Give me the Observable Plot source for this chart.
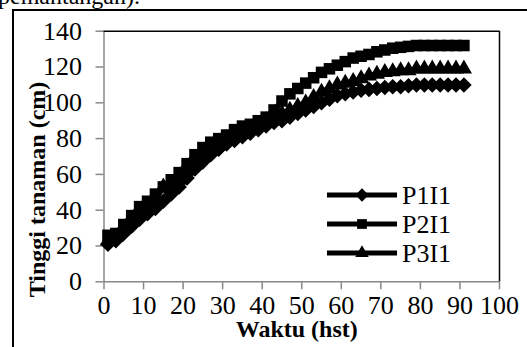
<!DOCTYPE html>
<html><head><meta charset="utf-8">
<script src="https://cdn.jsdelivr.net/npm/d3@7"></script>
<script src="https://cdn.jsdelivr.net/npm/@observablehq/plot@0.6"></script>
<style>
html,body{margin:0;padding:0;overflow:hidden;background:#fff;width:527px;height:347px;}
#wrap{position:relative;width:527px;height:347px;font-family:"Liberation Serif","Times New Roman",serif;}
#cap{position:absolute;left:-2px;top:-16px;font-size:24px;line-height:1;white-space:nowrap;}
#box{position:absolute;left:12px;top:9px;width:600px;height:400px;border:2px solid #000;pointer-events:none;}
#chart{position:absolute;left:0;top:0;}
#leg{position:absolute;left:0;top:0;pointer-events:none;}
</style></head><body>
<div id="wrap"><div id="cap">pemantangan).</div><div id="chart"></div><div id="box"></div></div>
<script>
const days = [1,3,5,7,9,11,13,15,17,19,21,23,25,27,29,31,33,35,37,39,41,43,45,47,49,51,53,55,57,59,61,63,65,67,69,71,73,75,77,79,81,83,85,87,89,91];
const P1I1 = [21,23,27,31,35,38,41,45,49,53,58,63,67,71,74,77,79,81,83,85,87,89,90,92,94,96,98,100,102,104,105,106,107,107.5,108,108.5,109,109,109.5,110,110,110,110,110,110,110];
const P2I1 = [26,27,32,37,42,45,49,53,57,61,66,71,75,78,80,82,85,87,88,90,92,96,101,105,108,111,114,117,119,121,123,125,126,127,128.5,129.5,130.5,131,131.5,132,132,132,132,132,132,132];
const P3I1 = [23,25,30,34,38,42,46,53,52,57,62,67,71,75,78,80,82,84,86,88,90,92,94,96,98,100,103,106,108,110,111,112,113.5,115,116,117,117.5,118,118,119,119,119,119,119,119,119];
const seriesNames = ["P1I1","P2I1","P3I1"];
const seriesSymbols = ["diamond2","square","triangle"];
const seriesR = [7,6.5,6];
const xTicks = [0,10,20,30,40,50,60,70,80,90,100];
const yTicks = [0,20,40,60,80,100,120,140];
const xTitle = "Waktu (hst)";
const yTitle = "Tinggi tanaman (cm)";

const values = [P1I1,P2I1,P3I1];
const font = '"Liberation Serif","Times New Roman",serif';
const seriesMarks = [];
values.forEach((vals,k)=>{
  const rows = days.map((d,i)=>({day:d, v:vals[i]}));
  seriesMarks.push(Plot.line(rows,{x:"day",y:"v",stroke:"#000",strokeWidth:5.5}));
  seriesMarks.push(Plot.dot(rows,{x:"day",y:"v",symbol:()=>seriesSymbols[k],r:seriesR[k],fill:"#000",stroke:"none"}));
});

const W=527,H=347,mL=103.5,mR=28,mT=30.7,mB=65.7;
const chart = Plot.plot({
  width:W, height:H, marginLeft:mL, marginRight:mR, marginTop:mT, marginBottom:mB,
  style:{fontFamily:font, background:"transparent", overflow:"visible", color:"#000"},
  x:{domain:[0,100]}, y:{domain:[0,140]},
  symbol:{type:"identity"},
  marks:[
    Plot.axisX({ticks:xTicks, tickSize:8, tickPadding:6, stroke:"#888", strokeWidth:1.5, fill:"#000", fontSize:26, label:null, tickFormat:d=>String(d)}),
    Plot.axisY({ticks:yTicks, tickSize:8, tickPadding:14, stroke:"#888", strokeWidth:1.5, fill:"#000", fontSize:26, label:null, tickFormat:d=>String(d)}),
    Plot.ruleY([0],{stroke:"#888", strokeWidth:1.5}),
    Plot.ruleX([0],{stroke:"#888", strokeWidth:1.5}),
    Plot.ruleY([140],{stroke:"#000", strokeWidth:1.5}),
    Plot.ruleX([100],{stroke:"#000", strokeWidth:1.5}),
    ...seriesMarks,
    Plot.text([yTitle],{frameAnchor:"left", textAnchor:"middle", lineAnchor:"middle", dx:-67, dy:33, rotate:-90, fontWeight:"bold", fontSize:24, fill:"#000", fontFamily:font}),
    Plot.text([xTitle],{frameAnchor:"bottom", textAnchor:"middle", lineAnchor:"middle", dx:-5, dy:48, fontWeight:"bold", fontSize:24, fill:"#000", fontFamily:font})
  ]
});
document.getElementById("chart").appendChild(chart);

// legend
const leg = d3.select("#wrap").append("svg").attr("id","leg").attr("width",W).attr("height",H);
const symGen = {diamond2:d3.symbolDiamond2, square:d3.symbolSquare, triangle:d3.symbolTriangle};
const legR = [6,5.5,5];
seriesNames.forEach((name,k)=>{
  const y = 195 + k*29;
  const g = leg.append("g");
  g.append("line").attr("x1",327).attr("x2",397).attr("y1",y).attr("y2",y).attr("stroke","#000").attr("stroke-width",5);
  g.append("path").attr("transform",`translate(362,${y})`).attr("d",d3.symbol(symGen[seriesSymbols[k]], Math.PI*legR[k]*legR[k])()).attr("fill","#000");
  g.append("text").attr("x",402).attr("y",y).attr("dy","0.34em").attr("font-size",26).attr("font-family",font).text(name);
});
</script>
</body></html>
